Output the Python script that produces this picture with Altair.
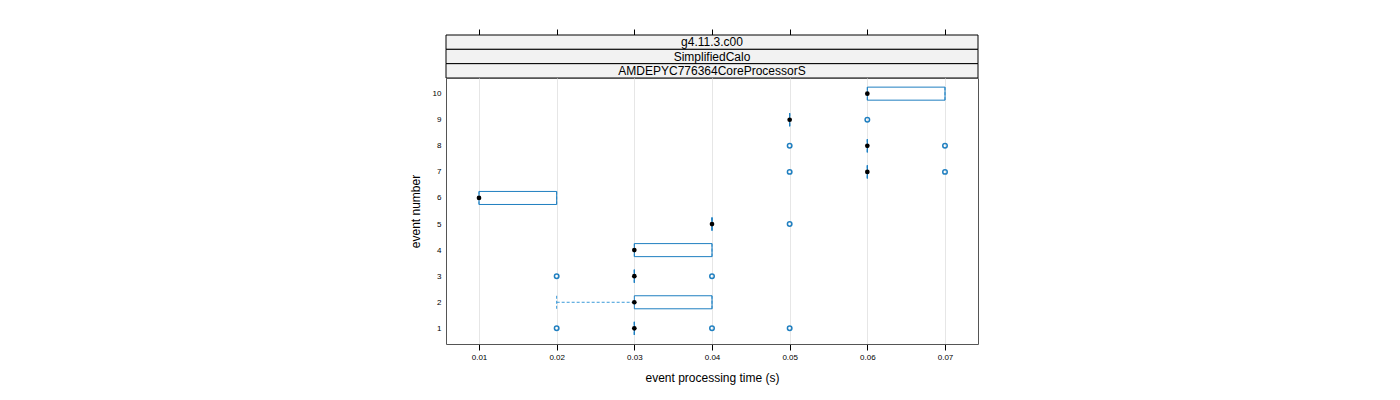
import altair as alt
import pandas as pd

# ---- data ----
events = [1, 2, 3, 4, 5, 6, 7, 8, 9, 10]
q1 = [0.03, 0.03, 0.03, 0.03, 0.04, 0.01, 0.06, 0.06, 0.05, 0.06]
medians = [0.03, 0.03, 0.03, 0.03, 0.04, 0.01, 0.06, 0.06, 0.05, 0.06]
q3 = [0.03, 0.04, 0.03, 0.04, 0.04, 0.02, 0.06, 0.06, 0.05, 0.07]
whisker_lo = [0.03, 0.02, 0.03, 0.03, 0.04, 0.01, 0.06, 0.06, 0.05, 0.06]
whisker_hi = [0.03, 0.04, 0.03, 0.04, 0.04, 0.02, 0.06, 0.06, 0.05, 0.07]

outlier_event = [1, 1, 1, 3, 3, 5, 7, 7, 8, 8, 9]
outlier_value = [0.02, 0.04, 0.05, 0.02, 0.04, 0.05, 0.05, 0.07, 0.05, 0.07, 0.06]

strip_labels = ["g4.11.3.c00", "SimplifiedCalo", "AMDEPYC776364CoreProcessorS"]
x_ticks = [0.01, 0.02, 0.03, 0.04, 0.05, 0.06, 0.07]
y_ticks = events

x_domain = [0.00575, 0.07425]
y_domain = [0.4, 10.6]

FONT = "Liberation Sans"
BLUE = "#1f7fc0"
WHISK = "#3a9ad9"
W, H = 532, 266

stats = pd.DataFrame({
    "event": events, "q1": q1, "med": medians, "q3": q3,
    "wlo": whisker_lo, "whi": whisker_hi,
})
outl = pd.DataFrame({"event": outlier_event, "value": outlier_value})
strips = pd.DataFrame({"label": strip_labels})

xs = alt.Scale(domain=x_domain, nice=False, zero=False)
ys = alt.Scale(domain=y_domain, nice=False, zero=False)

base = alt.Chart(stats).transform_calculate(
    lo="datum.event - 0.25", hi="datum.event + 0.25"
)

x_axis = alt.Axis(
    values=x_ticks, format=".2f", title="event processing time (s)",
    labelFontSize=8, titleFontSize=12, labelFont=FONT, titleFont=FONT,
    titleFontWeight="normal", grid=True, gridColor="#e6e6e6",
    tickSize=6, tickColor="#000", domain=False, labelPadding=3,
    titlePadding=11, labelColor="#000", titleColor="#000", labelOverlap=False,
)
y_axis = alt.Axis(
    values=y_ticks, format="d", title="event number",
    labelFontSize=8, titleFontSize=12, labelFont=FONT, titleFont=FONT,
    titleFontWeight="normal", grid=False, ticks=False, domain=False,
    labelPadding=5, titlePadding=10, labelColor="#000", titleColor="#000",
    labelOverlap=False,
)

X = lambda f: alt.X(f, scale=xs, axis=x_axis)
Y = lambda f: alt.Y(f, scale=ys, axis=y_axis)

whisk_lo = base.mark_rule(color=WHISK, strokeDash=[3, 2], strokeWidth=1).encode(
    x=X("wlo:Q"), x2="q1:Q", y=Y("event:Q"),
)
whisk_hi = base.mark_rule(color=WHISK, strokeDash=[3, 2], strokeWidth=1).encode(
    x=X("q3:Q"), x2="whi:Q", y=Y("event:Q"),
)
cap_lo = base.mark_rule(color=WHISK, strokeDash=[3, 2], strokeWidth=1).encode(
    x=X("wlo:Q"), y=Y("lo:Q"), y2="hi:Q",
)
cap_hi = base.mark_rule(color=WHISK, strokeDash=[3, 2], strokeWidth=1).encode(
    x=X("whi:Q"), y=Y("lo:Q"), y2="hi:Q",
)
box = base.mark_rect(fillOpacity=0, stroke=BLUE, strokeWidth=1).encode(
    x=X("q1:Q"), x2="q3:Q", y=Y("lo:Q"), y2="hi:Q",
)
med = base.mark_point(filled=True, color="#000", size=22, opacity=1).encode(
    x=X("med:Q"), y=Y("event:Q"),
)
outs = alt.Chart(outl).mark_point(
    filled=False, color=BLUE, size=20, strokeWidth=1.5, opacity=1
).encode(
    x=X("value:Q"), y=Y("event:Q"),
)

main = alt.layer(whisk_lo, whisk_hi, cap_lo, cap_hi, box, med, outs).properties(
    width=W, height=H, view=alt.ViewBackground(stroke="#555", strokeWidth=1)
)

strip_y = alt.Y("label:N", sort=strip_labels, axis=None,
                scale=alt.Scale(paddingInner=0, paddingOuter=0))
strip_rect = alt.Chart(strips).mark_rect(fill="#f2f2f2", stroke="#000", strokeWidth=1).encode(
    x=alt.X("lo:Q", scale=xs, axis=alt.Axis(
        orient="top", values=x_ticks, labels=False, title=None, grid=False,
        domain=False, tickSize=6, tickColor="#000")),
    x2="hi:Q",
    y=strip_y,
).transform_calculate(lo=str(x_domain[0]), hi=str(x_domain[1]))
strip_text = alt.Chart(strips).mark_text(
    font=FONT, fontSize=12, color="#000", baseline="middle", align="center"
).encode(
    x=alt.datum(0.04, scale=xs),
    y=strip_y,
    text="label:N",
)
strip = alt.layer(strip_rect, strip_text).properties(
    width=W, height=43, view=alt.ViewBackground(stroke=None)
)

chart = alt.vconcat(strip, main, spacing=0, bounds="flush").properties(
    padding={"left": 400, "top": 20, "right": 5, "bottom": 5}
).configure(font=FONT).configure_axis(labelOverlap=False)

chart.save("out.html", embed_options={"renderer": "svg", "actions": False})
